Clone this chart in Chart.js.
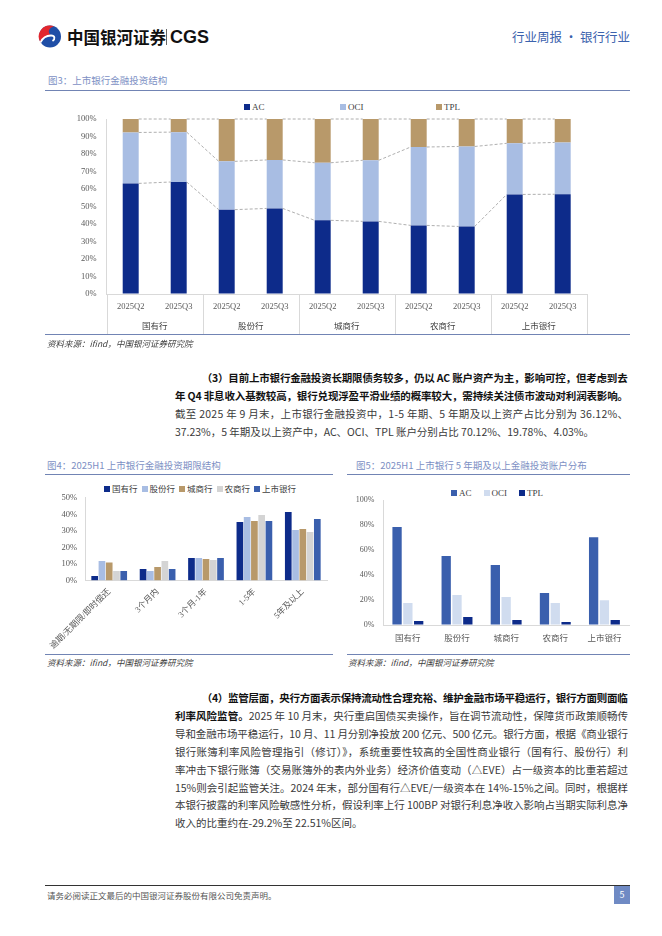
<!DOCTYPE html>
<html>
<head>
<meta charset="utf-8">
<script src="https://cdn.jsdelivr.net/npm/chart.js@4.4.1/dist/chart.umd.min.js"></script>
<style>
body { margin: 0; width: 662px; height: 936px; position: relative; background: #fff; overflow: hidden;
       font-family: "Noto Sans CJK SC", sans-serif; color: #333; }
.abs { position: absolute; white-space: nowrap; }
.ln { position: absolute; white-space: nowrap; font-size: 10.5px; line-height: 14px; color: #3a3a3a; }
.ln b { color: #111; font-weight: 700; }
.ftitle { position: absolute; font-size: 9.5px; line-height: 12px; color: #7d90c4; white-space: nowrap; }
.rule { position: absolute; height: 1px; background: #7184b4; }
.src { position: absolute; font-size: 8.5px; line-height: 12px; font-style: italic; color: #404040; white-space: nowrap; }
.legend { position: absolute; display: flex; font-family: "Liberation Serif", "Noto Sans CJK SC", serif;
          font-size: 9px; line-height: 10px; color: #404040; white-space: nowrap; }
.legend .item { display: flex; align-items: center; }
.legend i { display: inline-block; width: 6px; height: 6px; margin-right: 2px; }
canvas { position: absolute; }
</style>
</head>
<body>

<!-- header -->
<svg class="abs" style="left:37px;top:25px" width="26" height="23" viewBox="0 0 26 23">
  <circle cx="13" cy="11.5" r="11" fill="#1f4ea6"/>
  <path d="M13 0.5 A11 11 0 0 0 3.5 17.5 C6 12 10 10.5 14 10.5 C10.5 8 11 3 17 1.3 A11 11 0 0 0 13 0.5 Z" fill="#e3262d"/>
  <path d="M3.5 17.5 C6 12 10 10.5 14 10.5 C18 10.5 18.5 14 15.5 16" stroke="#fff" stroke-width="1.8" fill="none"/>
</svg>
<div class="abs" style="left:67px;top:26px;font-size:16.5px;font-weight:700;line-height:22px;color:#111">中国银河证券</div>
<div class="abs" style="left:166px;top:29px;width:1px;height:16px;background:#666"></div>
<div class="abs" style="left:170px;top:26px;font-family:'Liberation Sans',sans-serif;font-size:18px;font-weight:700;line-height:22px;color:#111">CGS</div>
<div class="abs" style="right:32px;top:29px;font-size:12.5px;line-height:16px;color:#3b62ad">行业周报 · 银行行业</div>

<!-- figure 3 -->
<div class="ftitle" style="left:48px;top:74px">图3：上市银行金融投资结构</div>
<div class="rule" style="left:45px;top:90px;width:585px"></div>
<div class="legend" id="lg3" style="left:244px;top:102px"></div>
<canvas id="c3" width="590" height="240" style="left:40px;top:95px"></canvas>
<div class="rule" style="left:45px;top:334px;width:585px"></div>
<div class="src" style="left:47px;top:337px">资料来源：ifind，中国银河证券研究院</div>

<!-- paragraph 3 -->
<div class="ln" style="left:201.7px;top:370.7px" data-w="426"><b>（3）目前上市银行金融投资长期限债务较多，仍以 AC 账户资产为主，影响可控，但考虑到去</b></div>
<div class="ln" style="left:175px;top:388.5px" data-w="453"><b>年 Q4 非息收入基数较高，银行兑现浮盈平滑业绩的概率较大，需持续关注债市波动对利润表影响。</b></div>
<div class="ln" style="left:175px;top:407px" data-w="453">截至 2025 年 9 月末，上市银行金融投资中，1-5 年期、5 年期及以上资产占比分别为 36.12%、</div>
<div class="ln" style="left:175px;top:425.3px" data-w="419">37.23%，5 年期及以上资产中，AC、OCI、TPL 账户分别占比 70.12%、19.78%、4.03%。</div>

<!-- figure 4 -->
<div class="ftitle" style="left:47px;top:459px">图4：2025H1 上市银行金融投资期限结构</div>
<div class="rule" style="left:45px;top:474px;width:288px"></div>
<div class="legend" id="lg4" style="left:104px;top:484px;font-size:8.5px"></div>
<canvas id="c4" width="293" height="175" style="left:40px;top:478px"></canvas>
<div class="rule" style="left:45px;top:654px;width:288px"></div>
<div class="src" style="left:47px;top:656px">资料来源：ifind，中国银河证券研究院</div>

<!-- figure 5 -->
<div class="ftitle" style="left:356px;top:459px">图5：2025H1 上市银行 5 年期及以上金融投资账户分布</div>
<div class="rule" style="left:347px;top:474px;width:283px"></div>
<div class="legend" id="lg5" style="left:451px;top:487.7px"></div>
<canvas id="c5" width="295" height="175" style="left:340px;top:478px"></canvas>
<div class="rule" style="left:347px;top:654px;width:283px"></div>
<div class="src" style="left:348px;top:656px">资料来源：ifind，中国银河证券研究院</div>

<!-- paragraph 4 -->
<div class="ln" style="left:201.7px;top:690.7px" data-w="426"><b>（4）监管层面，央行方面表示保持流动性合理充裕、维护金融市场平稳运行，银行方面则面临</b></div>
<div class="ln" style="left:175px;top:708.7px" data-w="453"><b>利率风险监管。</b>2025 年 10 月末，央行重启国债买卖操作，旨在调节流动性，保障货币政策顺畅传</div>
<div class="ln" style="left:175px;top:726.7px" data-w="453">导和金融市场平稳运行，10 月、11 月分别净投放 200 亿元、500 亿元。银行方面，根据《商业银行</div>
<div class="ln" style="left:175px;top:744.5px" data-w="453">银行账簿利率风险管理指引（修订）》，系统重要性较高的全国性商业银行（国有行、股份行）利</div>
<div class="ln" style="left:175px;top:762.7px" data-w="453">率冲击下银行账簿（交易账簿外的表内外业务）经济价值变动（△EVE）占一级资本的比重若超过</div>
<div class="ln" style="left:175px;top:780.5px" data-w="453">15%则会引起监管关注。2024 年末，部分国有行△EVE/一级资本在 14%-15%之间。同时，根据样</div>
<div class="ln" style="left:175px;top:798px" data-w="453">本银行披露的利率风险敏感性分析，假设利率上行 100BP 对银行利息净收入影响占当期实际利息净</div>
<div class="ln" style="left:175px;top:815.5px">收入的比重约在-29.2%至 22.51%区间。</div>

<!-- footer -->
<div class="abs" style="left:45px;top:885px;width:585px;height:1px;background:#333"></div>
<div class="abs" style="left:47px;top:889px;font-size:8.5px;line-height:12px;color:#555">请务必阅读正文最后的中国银河证券股份有限公司免责声明。</div>
<div class="abs" style="left:614px;top:886px;width:16px;height:18px;background:#6f8ac4;color:#fff;font-size:9px;line-height:18px;text-align:center">5</div>

<script>
// 图3：上市银行金融投资结构（%）
const fig3Groups = ['国有行', '股份行', '城商行', '农商行', '上市银行'];
const fig3Quarters = ['2025Q2', '2025Q3'];
const fig3AC  = [63.2, 64.0, 48.2, 48.9, 42.1, 41.5, 39.2, 38.6, 56.9, 57.0];
const fig3OCI = [29.1, 28.5, 27.6, 27.7, 32.9, 34.9, 44.8, 45.7, 29.2, 29.6];
const fig3TPL = [7.7, 7.5, 24.2, 23.4, 25.0, 23.6, 16.0, 15.7, 13.9, 13.4];
const fig3Ticks = [0, 10, 20, 30, 40, 50, 60, 70, 80, 90, 100];

// 图4：2025H1 上市银行金融投资期限结构（%）
const fig4Terms = ['逾期/无期限/即时偿还', '3个月内', '3个月-1年', '1-5年', '5年及以上'];
const fig4Guoyou     = [2.8, 7.0, 13.7, 35.3, 41.4];
const fig4Gufen      = [11.8, 5.8, 13.7, 38.4, 30.5];
const fig4Chengshang = [11.0, 8.2, 13.1, 35.9, 31.1];
const fig4Nongshang  = [5.8, 11.8, 12.4, 39.6, 29.3];
const fig4Shangshi   = [5.8, 7.0, 13.7, 35.9, 37.1];
const fig4Ticks = [0, 10, 20, 30, 40, 50];

// 图5：2025H1 上市银行 5 年期及以上金融投资账户分布（%）
const fig5Banks = ['国有行', '股份行', '城商行', '农商行', '上市银行'];
const fig5AC  = [78.4, 55.2, 48.0, 25.6, 70.12];
const fig5OCI = [17.6, 24.0, 22.4, 17.6, 19.78];
const fig5TPL = [3.2, 6.4, 4.0, 2.4, 4.03];
const fig5Ticks = [0, 20, 40, 60, 80, 100];

const navy = '#0d2b8a', lightBlue = '#a8bde3', tan = '#b8996a', gray = '#d4d4d4', midBlue = '#3a5fad', paleBlue = '#d0dcef';
const tickColor = '#595959';
const serif = '"Liberation Serif", "Noto Sans CJK SC", serif';

Chart.defaults.font.family = serif;
Chart.defaults.color = tickColor;
Chart.defaults.animation = false;

function htmlLegend(id, datasets, itemWidth, gap) {
  const box = document.getElementById(id);
  datasets.forEach(ds => {
    const it = document.createElement('span');
    it.className = 'item';
    if (itemWidth) it.style.width = itemWidth + 'px';
    else it.style.marginRight = gap + 'px';
    it.innerHTML = '<i style="background:' + ds.backgroundColor + '"></i>' + ds.label;
    box.appendChild(it);
  });
}

function yScale(ticks, width, pad, size) {
  return {
    min: ticks[0], max: ticks[ticks.length - 1],
    afterBuildTicks: s => { s.ticks = ticks.map(v => ({ value: v })); },
    ticks: { callback: v => v + '%', padding: pad, font: { size: size } },
    grid: { drawOnChartArea: false, drawTicks: false },
    border: { color: '#d9d9d9' },
    afterFit: s => { s.width = width; }
  };
}

// dashed series lines between stacked bars
const seriesLines = {
  id: 'seriesLines',
  afterDatasetsDraw(chart) {
    const ctx = chart.ctx;
    ctx.save();
    ctx.strokeStyle = '#9a9a9a';
    ctx.lineWidth = 0.8;
    ctx.setLineDash([3, 2]);
    chart.data.datasets.forEach((ds, di) => {
      const bars = chart.getDatasetMeta(di).data;
      for (let i = 0; i < bars.length - 1; i++) {
        const a = bars[i], b = bars[i + 1];
        ctx.beginPath();
        ctx.moveTo(a.x + a.width / 2, a.y);
        ctx.lineTo(b.x - b.width / 2, b.y);
        ctx.stroke();
      }
    });
    ctx.restore();
  }
};

// second level of the category axis (bank groups)
const groupAxis = {
  id: 'groupAxis',
  afterDraw(chart) {
    const { ctx, chartArea: area, scales: { x } } = chart;
    const per = fig3Quarters.length;
    const half = (x.getPixelForValue(1) - x.getPixelForValue(0)) / 2;
    ctx.save();
    ctx.strokeStyle = '#d9d9d9';
    ctx.lineWidth = 1;
    ctx.fillStyle = '#404040';
    ctx.font = '8.5px "Noto Sans CJK SC"';
    ctx.textAlign = 'center';
    ctx.textBaseline = 'middle';
    fig3Groups.forEach((g, i) => {
      const l = x.getPixelForValue(i * per) - half;
      const r = x.getPixelForValue(i * per + per - 1) + half;
      ctx.fillText(g, (l + r) / 2, area.bottom + 31.7);
      [l, r].forEach(px => {
        ctx.beginPath();
        ctx.moveTo(Math.round(px) + 0.5, area.bottom);
        ctx.lineTo(Math.round(px) + 0.5, area.bottom + 40);
        ctx.stroke();
      });
    });
    ctx.restore();
  }
};

// 图3
const fig3Sets = [
  { label: 'AC', data: fig3AC, backgroundColor: navy },
  { label: 'OCI', data: fig3OCI, backgroundColor: lightBlue },
  { label: 'TPL', data: fig3TPL, backgroundColor: tan }
];
htmlLegend('lg3', fig3Sets, 96);
new Chart(document.getElementById('c3'), {
  type: 'bar',
  data: { labels: fig3Groups.flatMap(() => fig3Quarters), datasets: fig3Sets },
  options: {
    responsive: false, devicePixelRatio: 1,
    layout: { padding: { top: 24, right: 43.3, left: 0, bottom: 0 } },
    datasets: { bar: { barPercentage: 0.333, categoryPercentage: 1 } },
    plugins: { legend: { display: false }, tooltip: { enabled: false } },
    scales: {
      x: {
        stacked: true,
        grid: { drawOnChartArea: false, drawTicks: false },
        border: { color: '#d9d9d9' },
        ticks: { font: { size: 8.5 }, padding: 8, maxRotation: 0, autoSkip: false },
        afterFit: s => { s.height = 41; }
      },
      y: Object.assign({ stacked: true }, yScale(fig3Ticks, 66.7, 10, 8.5))
    }
  },
  plugins: [seriesLines, groupAxis]
});

// 图4
const fig4Sets = [
  { label: '国有行', data: fig4Guoyou, backgroundColor: navy },
  { label: '股份行', data: fig4Gufen, backgroundColor: lightBlue },
  { label: '城商行', data: fig4Chengshang, backgroundColor: tan },
  { label: '农商行', data: fig4Nongshang, backgroundColor: gray },
  { label: '上市银行', data: fig4Shangshi, backgroundColor: midBlue }
];
htmlLegend('lg4', fig4Sets, 0, 4);
new Chart(document.getElementById('c4'), {
  type: 'bar',
  data: { labels: fig4Terms, datasets: fig4Sets },
  options: {
    responsive: false, devicePixelRatio: 1,
    layout: { padding: { top: 19.7, right: 6, left: 0, bottom: 0 } },
    datasets: { bar: { barPercentage: 0.92, categoryPercentage: 0.75 } },
    plugins: { legend: { display: false }, tooltip: { enabled: false } },
    scales: {
      x: {
        grid: { drawOnChartArea: false, drawTicks: false },
        border: { color: '#d9d9d9' },
        ticks: { font: { size: 8.5 }, padding: 6, minRotation: 45, maxRotation: 45, autoSkip: false },
        afterFit: s => { s.height = 72.3; }
      },
      y: yScale(fig4Ticks, 45, 8, 8.5)
    }
  }
});

// 图5
const fig5Sets = [
  { label: 'AC', data: fig5AC, backgroundColor: midBlue },
  { label: 'OCI', data: fig5OCI, backgroundColor: paleBlue },
  { label: 'TPL', data: fig5TPL, backgroundColor: navy }
];
htmlLegend('lg5', fig5Sets, 0, 12);
new Chart(document.getElementById('c5'), {
  type: 'bar',
  data: { labels: fig5Banks, datasets: fig5Sets },
  options: {
    responsive: false, devicePixelRatio: 1,
    layout: { padding: { top: 22, right: 6, left: 0, bottom: 0 } },
    datasets: { bar: { barPercentage: 0.86, categoryPercentage: 0.66 } },
    plugins: { legend: { display: false }, tooltip: { enabled: false } },
    scales: {
      x: {
        grid: { drawOnChartArea: false, drawTicks: false },
        border: { color: '#d9d9d9' },
        ticks: { font: { size: 8.5 }, padding: 9, maxRotation: 0, autoSkip: false },
        afterFit: s => { s.height = 28; }
      },
      y: yScale(fig5Ticks, 43.3, 9, 8)
    }
  }
});

// justify each body line to its measured width in the reference
document.querySelectorAll('.ln').forEach(el => {
  const target = +el.dataset.w;
  if (!target) return;
  const w = el.getBoundingClientRect().width;
  const n = el.textContent.length;
  el.style.letterSpacing = ((target - w) / (n - 1)) + 'px';
});
</script>
</body>
</html>
